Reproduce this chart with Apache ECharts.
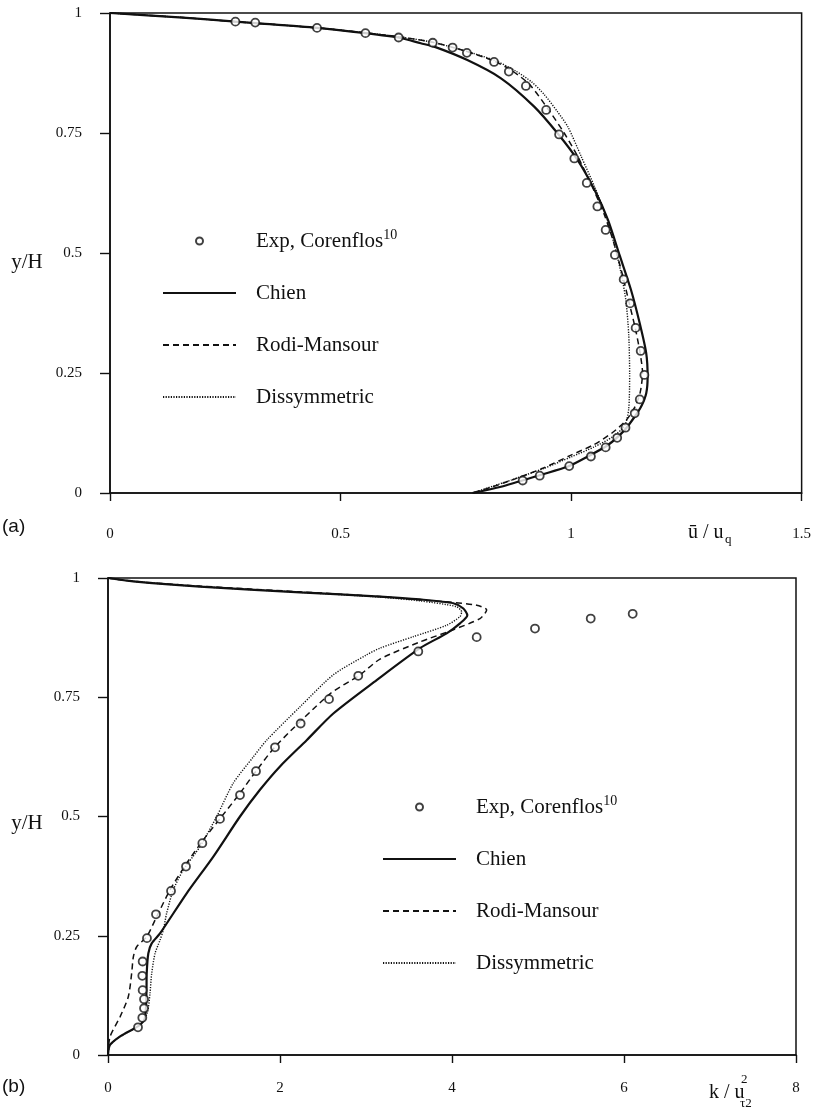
<!DOCTYPE html>
<html>
<head>
<meta charset="utf-8">
<script src="https://cdn.jsdelivr.net/npm/echarts@6/dist/echarts.min.js"></script>
<style>
  html, body { margin: 0; padding: 0; background: #fff; }
  #chart { width: 814px; height: 1111px; }
</style>
</head>
<body>
<div id="chart"></div>
<script>
// (a) mean velocity profile: [u/uq, y/H]
const expVel = [
  [0.272, 0.982], [0.315, 0.980], [0.449, 0.969], [0.554, 0.958], [0.626, 0.949],
  [0.700, 0.938], [0.743, 0.928], [0.774, 0.917], [0.833, 0.898], [0.865, 0.878],
  [0.902, 0.848], [0.946, 0.798], [0.974, 0.747], [1.007, 0.697], [1.034, 0.646],
  [1.057, 0.597], [1.075, 0.548], [1.095, 0.496], [1.114, 0.445], [1.128, 0.395],
  [1.140, 0.344], [1.151, 0.296], [1.159, 0.246], [1.149, 0.195], [1.138, 0.166],
  [1.118, 0.136], [1.100, 0.115], [1.075, 0.095], [1.043, 0.076], [0.996, 0.056],
  [0.932, 0.036], [0.895, 0.026]
];
const velChien = [
  [0, 1], [0.15, 0.991], [0.272, 0.982], [0.315, 0.979], [0.449, 0.969], [0.554, 0.958],
  [0.630, 0.948], [0.674, 0.937], [0.703, 0.930], [0.775, 0.902], [0.848, 0.864],
  [0.920, 0.805], [0.971, 0.749], [1.014, 0.694], [1.051, 0.631], [1.080, 0.569],
  [1.105, 0.496], [1.130, 0.423], [1.149, 0.353], [1.163, 0.291], [1.166, 0.242],
  [1.163, 0.208], [1.152, 0.180], [1.138, 0.159], [1.116, 0.131], [1.080, 0.100],
  [1.036, 0.076], [0.993, 0.055], [0.935, 0.038], [0.848, 0.013], [0.786, 0]
];
const velRodi = [
  [0, 1], [0.15, 0.991], [0.272, 0.982], [0.45, 0.969], [0.56, 0.958], [0.63, 0.950],
  [0.70, 0.939], [0.77, 0.921], [0.83, 0.901], [0.87, 0.881], [0.91, 0.851],
  [0.95, 0.800], [0.985, 0.750], [1.015, 0.700], [1.045, 0.640], [1.072, 0.580],
  [1.093, 0.520], [1.110, 0.460], [1.125, 0.400], [1.140, 0.340], [1.150, 0.290],
  [1.155, 0.250], [1.150, 0.210], [1.140, 0.182], [1.120, 0.152], [1.090, 0.126],
  [1.050, 0.101], [1.000, 0.079], [0.940, 0.052], [0.880, 0.030], [0.830, 0.013], [0.786, 0]
];
const velDiss = [
  [0, 1], [0.15, 0.991], [0.272, 0.982], [0.45, 0.969], [0.56, 0.958], [0.63, 0.950],
  [0.70, 0.939], [0.77, 0.921], [0.835, 0.901], [0.88, 0.879], [0.915, 0.856],
  [0.942, 0.830], [0.970, 0.795], [0.993, 0.763], [1.022, 0.701], [1.051, 0.638],
  [1.075, 0.580], [1.093, 0.520], [1.108, 0.460], [1.119, 0.400], [1.125, 0.330],
  [1.127, 0.250], [1.125, 0.175], [1.116, 0.140], [1.090, 0.117], [1.050, 0.096],
  [1.000, 0.075], [0.940, 0.051], [0.870, 0.027], [0.786, 0]
];

// (b) turbulent kinetic energy profile: [k/u_tau2^2, y/H]
const expK = [
  [0.349, 0.058], [0.399, 0.078], [0.419, 0.098], [0.419, 0.117], [0.403, 0.136],
  [0.399, 0.166], [0.403, 0.196], [0.453, 0.245], [0.558, 0.295], [0.733, 0.344],
  [0.907, 0.395], [1.097, 0.444], [1.302, 0.495], [1.535, 0.545], [1.721, 0.595],
  [1.942, 0.645], [2.240, 0.695], [2.570, 0.746], [2.910, 0.795], [3.608, 0.846],
  [4.287, 0.876], [4.965, 0.894], [5.613, 0.915], [6.101, 0.925]
];
const kChien = [
  [0, 0], [0.023, 0.021], [0.15, 0.040], [0.30, 0.055], [0.372, 0.063], [0.425, 0.075],
  [0.442, 0.101], [0.448, 0.140], [0.450, 0.171], [0.469, 0.213], [0.508, 0.234],
  [0.605, 0.255], [0.915, 0.339], [1.225, 0.416], [1.535, 0.500], [1.767, 0.556],
  [2.000, 0.605], [2.310, 0.660], [2.620, 0.716], [3.124, 0.786], [3.628, 0.853],
  [3.938, 0.884], [4.093, 0.905], [4.178, 0.922], [4.132, 0.936], [4.015, 0.947],
  [3.628, 0.955], [3.163, 0.961], [2.233, 0.970], [1.070, 0.982], [0.294, 0.993], [0, 1]
];
const kRodi = [
  [0, 0], [0.023, 0.038], [0.14, 0.080], [0.236, 0.122], [0.275, 0.171], [0.295, 0.206],
  [0.334, 0.227], [0.450, 0.248], [0.566, 0.290], [0.721, 0.346], [0.915, 0.402],
  [1.108, 0.451], [1.322, 0.500], [1.535, 0.549], [1.729, 0.597], [1.962, 0.650],
  [2.581, 0.757], [2.930, 0.797], [3.163, 0.830], [3.628, 0.866], [3.977, 0.889],
  [4.326, 0.915], [4.403, 0.933], [4.287, 0.943], [3.938, 0.950], [3.628, 0.954],
  [3.163, 0.961], [2.233, 0.971], [1.070, 0.983], [0.294, 0.993], [0, 1]
];
const kDiss = [
  [0, 0], [0.023, 0.021], [0.15, 0.040], [0.30, 0.055], [0.40, 0.068], [0.46, 0.090],
  [0.488, 0.129], [0.508, 0.171], [0.547, 0.213], [0.605, 0.241], [0.643, 0.262],
  [0.682, 0.297], [0.759, 0.346], [0.876, 0.388], [1.070, 0.437], [1.264, 0.500],
  [1.457, 0.570], [1.690, 0.625], [1.845, 0.660], [2.233, 0.730], [2.620, 0.797],
  [3.008, 0.839], [3.163, 0.853], [3.550, 0.877], [3.938, 0.901], [4.093, 0.919],
  [4.112, 0.929], [4.050, 0.940], [3.628, 0.952], [3.163, 0.960], [2.233, 0.970],
  [1.070, 0.982], [0.294, 0.993], [0, 1]
];

const seriesNames = ['Exp, Corenflos', 'Chien', 'Rodi-Mansour', 'Dissymmetric'];
const velTicks = { min: 0, max: 1.5, interval: 0.5 };
const kTicks = { min: 0, max: 8, interval: 2 };
const yTicks = { min: 0, max: 1, interval: 0.25 };

const SERIF = '"Liberation Serif", "Times New Roman", serif';
const SANS = '"Liberation Sans", Arial, sans-serif';
const INK = '#111';

function xAxisOf(idx, ticks, labelMargin) {
  return {
    type: 'value', gridIndex: idx, min: ticks.min, max: ticks.max, interval: ticks.interval,
    axisLine: { show: true, onZero: false, lineStyle: { color: INK, width: 1.6 } },
    axisTick: { show: true, inside: false, length: 8, lineStyle: { color: INK, width: 1.4 } },
    axisLabel: { margin: labelMargin, color: INK, fontFamily: SERIF, fontSize: 15 },
    splitLine: { show: false }
  };
}
function yAxisOf(idx) {
  return {
    type: 'value', gridIndex: idx, min: yTicks.min, max: yTicks.max, interval: yTicks.interval,
    axisLine: { show: true, onZero: false, lineStyle: { color: INK, width: 1.6 } },
    axisTick: { show: true, inside: false, length: 10, lineStyle: { color: INK, width: 1.4 } },
    axisLabel: { margin: 28, color: INK, fontFamily: SERIF, fontSize: 15 },
    splitLine: { show: false }
  };
}
function scatterOf(idx, data) {
  return {
    name: seriesNames[0], type: 'scatter', xAxisIndex: idx, yAxisIndex: idx, data: data,
    symbol: 'circle', symbolSize: 8, z: 5,
    itemStyle: { color: '#fff', borderColor: INK, borderWidth: 1.8 }
  };
}
function curveOf(idx, nameIdx, data, dash, width) {
  return {
    name: seriesNames[nameIdx], type: 'line', xAxisIndex: idx, yAxisIndex: idx, data: data,
    showSymbol: false, symbol: 'none', smooth: 0.25, z: 3,
    lineStyle: { color: INK, width: width, type: dash },
    itemStyle: { color: INK }
  };
}
// legend entries for the curves show only the line sample, no marker
const hiddenMarker = { color: 'rgba(0,0,0,0)', borderColor: 'rgba(0,0,0,0)', borderWidth: 0, opacity: 0 };
function legendOf(left, top) {
  return {
    orient: 'vertical', left: left, top: top, itemWidth: 73, itemHeight: 7, itemGap: 26,
    data: seriesNames.map(function (n, i) {
      return i === 0 ? { name: n } : { name: n, itemStyle: hiddenMarker };
    }),
    selectedMode: false,
    formatter: function (name) {
      return name === seriesNames[0] ? name + '{sup|10}' : name;
    },
    textStyle: {
      color: INK, fontFamily: SERIF, fontSize: 21, lineHeight: 26, padding: [0, 0, 0, 15],
      rich: { sup: { fontFamily: SERIF, fontSize: 14, lineHeight: 14, verticalAlign: 'top', color: INK } }
    }
  };
}
function txt(x, y, text, size, family, align) {
  return {
    type: 'text', x: x, y: y,
    style: { text: text, fill: INK, font: size + 'px ' + family, textAlign: align || 'left', textVerticalAlign: 'middle' }
  };
}

const chart = echarts.init(document.getElementById('chart'), null, { renderer: 'canvas' });
chart.setOption({
  backgroundColor: '#fff',
  animation: false,
  grid: [
    { left: 110, right: 11, top: 13, height: 480, show: true, borderColor: INK, borderWidth: 1.5, backgroundColor: 'transparent' },
    { left: 108, right: 18, top: 578, height: 477, show: true, borderColor: INK, borderWidth: 1.5, backgroundColor: 'transparent' }
  ],
  xAxis: [xAxisOf(0, velTicks, 34), xAxisOf(1, kTicks, 26)],
  yAxis: [yAxisOf(0), yAxisOf(1)],
  legend: [legendOf(157, 223), legendOf(377, 789)],
  series: [
    scatterOf(0, expVel),
    curveOf(0, 1, velChien, 'solid', 2.2),
    curveOf(0, 2, velRodi, [6, 4], 1.5),
    curveOf(0, 3, velDiss, [1.2, 1.4], 1.4),
    scatterOf(1, expK),
    curveOf(1, 1, kChien, 'solid', 2.2),
    curveOf(1, 2, kRodi, [6, 4], 1.5),
    curveOf(1, 3, kDiss, [1.2, 1.4], 1.4)
  ],
  graphic: [
    txt(27, 262, 'y/H', 21, SERIF, 'center'),
    txt(27, 823, 'y/H', 21, SERIF, 'center'),
    txt(2, 527, '(a)', 19, SANS),
    txt(2, 1087, '(b)', 19, SANS),
    txt(688, 533, 'ū / u', 20, SERIF),
    txt(725, 540, 'q', 13, SERIF),
    txt(709, 1093, 'k / u', 20, SERIF),
    txt(741, 1080, '2', 13, SERIF),
    txt(740, 1104, 'τ2', 13, SERIF)
  ]
});
</script>
</body>
</html>
